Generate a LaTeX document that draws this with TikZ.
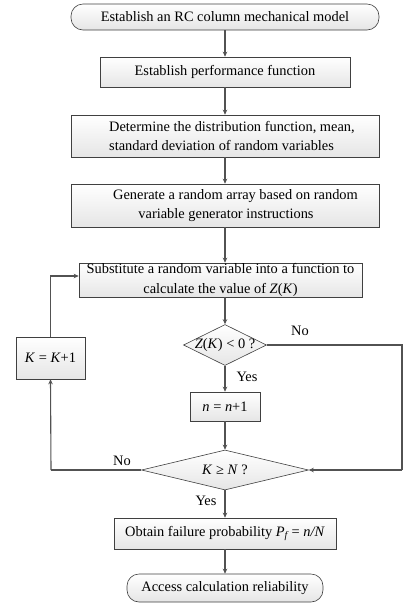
\documentclass[tikz,border=0pt]{standalone}
\usepackage{fontspec}
\setmainfont{Liberation Serif}
\usetikzlibrary{shapes.geometric,arrows.meta,calc}
\begin{document}
\begin{tikzpicture}[x=1pt,y=-1pt,
  font=\fontsize{14.4}{19.5}\selectfont,
  boxfill/.style={draw=black!75,line width=0.6pt,top color=white,bottom color=black!10,inner sep=0pt},
  proc/.style={boxfill,rectangle},
  term/.style={boxfill,rectangle,rounded corners=12pt},
  dec/.style={boxfill,diamond,inner sep=0pt},
  conn/.style={draw=black!68,line width=1.1pt,-{Stealth[length=5pt,width=4.5pt]}},
  line/.style={draw=black!68,line width=1.1pt},
  lab/.style={inner sep=0pt}]
\useasboundingbox (0,0) rectangle (403,606);
% nodes
\node[term,minimum width=308pt,minimum height=26pt] (s) at (225,17) {Establish an RC column mechanical model};
\node[proc,minimum width=250pt,minimum height=30pt] (b2) at (225,72) {Establish performance function};
\node[proc,minimum width=308pt,minimum height=42pt] (b3) at (225,136) {};
\node[lab,anchor=west,align=left] (t3) at (109,136) {Determine the distribution function, mean,\\standard deviation of random variables};
\node[proc,minimum width=308pt,minimum height=43pt] (b4) at (225,205.5) {};
\node[lab,align=center] (t4) at (226,205.5) {\hspace{19pt}Generate a random array based on random\\variable generator instructions};
\node[proc,minimum width=283pt,minimum height=34pt,align=center] (b5) at (220.5,280) {Substitute a random variable into a function to\\calculate the value of \textit{Z}(\textit{K})};
\node[dec,minimum width=83pt,minimum height=41pt] (d1) at (225,345) {};
\node[lab] (t1) at (225,345) {\textit{Z}(\textit{K}) < 0 ?};
\node[proc,minimum width=70pt,minimum height=29pt] (n) at (225,406.5) {\textit{n} = \textit{n}+1};
\node[dec,minimum width=167pt,minimum height=40pt] (d2) at (225,470) {};
\node[lab] (t2) at (225,470) {\textit{K} ≥ \textit{N} ?};
\node[proc,minimum width=69pt,minimum height=42pt] (k) at (50.5,358) {\textit{K} = \textit{K}+1};
\node[proc,minimum width=222pt,minimum height=31pt] (f) at (225,533.5) {Obtain failure probability \textit{P\textsubscript{f}} = \textit{n/N}};
\node[term,minimum width=196pt,minimum height=28pt] (e) at (225,588) {Access calculation reliability};
% labels
\node[lab] (no1) at (300,331) {No};
\node[lab] (yes1) at (247,377) {Yes};
\node[lab] (no2) at (122,461) {No};
\node[lab] (yes2) at (206,501) {Yes};
\coordinate (r1) at (402,345);
\coordinate (r2) at (402,470);
\coordinate (l2) at (51,470);
% connectors
\draw[conn] (s) -- (b2);
\draw[conn] (b2) -- (b3);
\draw[conn] (b3) -- (b4);
\draw[conn] (b4.south) -- (b4.south |- b5.north);
\draw[conn] (d1.north |- b5.south) -- (d1.north);
\draw[conn] (d1) -- (n);
\draw[conn] (n) -- (d2);
\draw[conn] (d2) -- (f);
\draw[conn] (f) -- (e);
\draw[line] (d1.east) -- (r1) -- (r2);
\draw[conn] (r2) -- (d2.east);
\draw[line] (d2.west) -- (l2);
\draw[conn] (l2) -- (k.south);
\draw[conn] (k.north) |- ([yshift=4pt]b5.west);
\end{tikzpicture}
\end{document}
